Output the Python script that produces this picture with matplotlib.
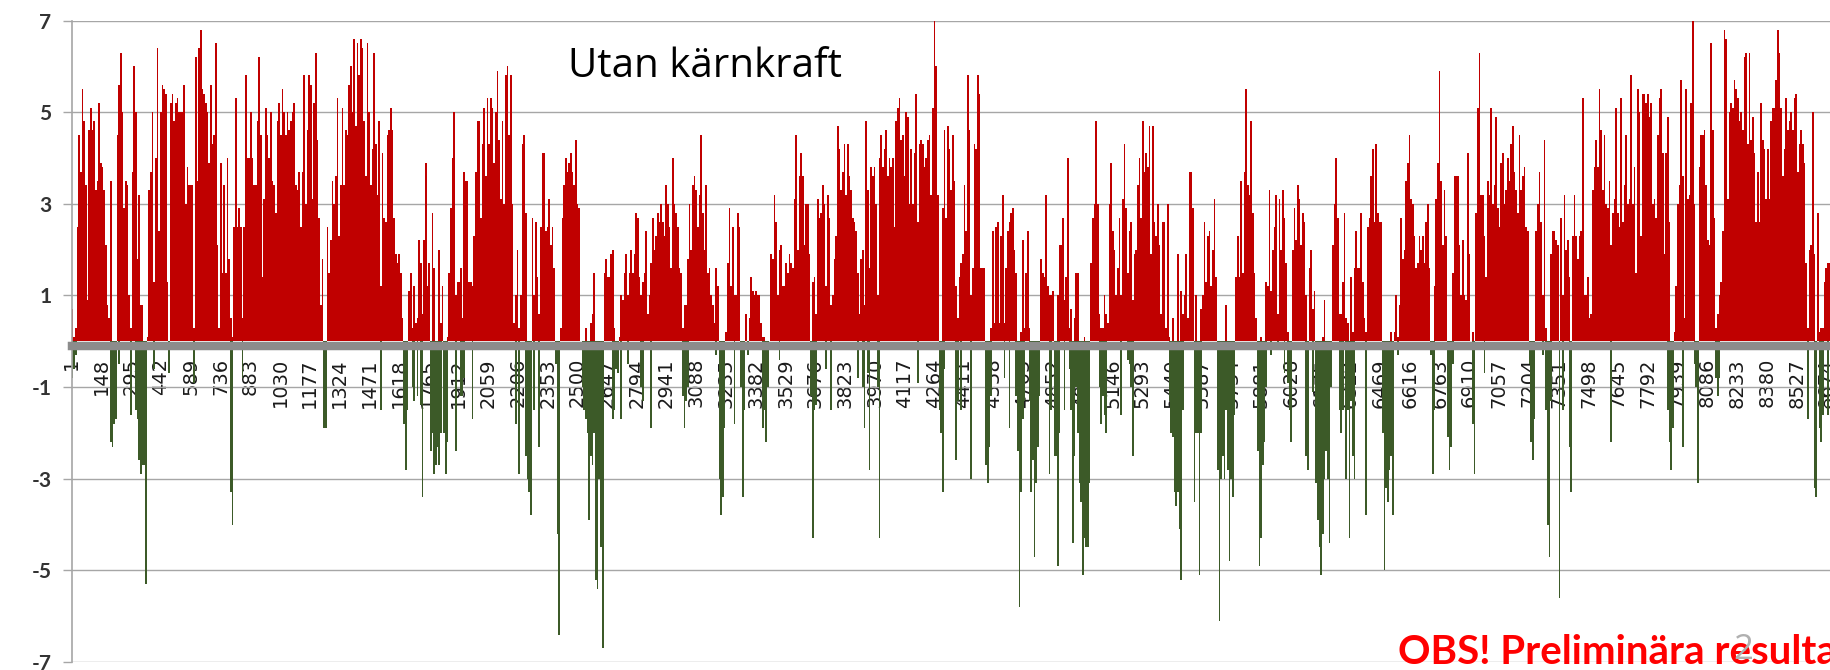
import numpy as np
import matplotlib.pyplot as plt

# timmar per avläst stapel (ungefär en tredjedels dygn)
BIN_H = 8.24

# överskott (röda staplar), ett värde per BIN_H timmar
overskott = [
    # 0 - 436 h
    0.7, 0.1, 0.3, 2.5, 4.5, 3.7, 5.5, 4.8, 3.4, 0.9, 4.6, 5.1, 4.6, 4.8, 3.3, 3.5, 5.2, 3.9, 3.8, 3.3,
    2.1, 0.8, 0.5, 3.5, 0, 0, 0, 4.5, 5.6, 6.3, 5.0, 2.9, 3.5, 3.4, 1.0, 0.3, 3.7, 6.0, 5.0, 1.8,
    3.2, 0.8, 0.8, 0, 0, 0.1, 3.3, 3.7, 5.0, 1.3, 4.0, 6.4, 2.4,
    # 436 - 1178 h
    5.0, 5.6, 5.5, 5.4, 1.3, 0.0, 5.2, 5.4, 4.8, 5.2, 5.3, 5.0, 5.0, 5.0, 5.6, 3.0, 3.8, 3.4, 3.4, 3.4,
    0.3, 6.2, 3.5, 6.4, 6.8, 5.5, 5.4, 5.2, 5.0, 3.9, 5.6, 4.3, 4.5, 6.5, 2.1, 0.3, 3.9, 1.5, 3.4, 1.5,
    4.0, 1.8, 0.5, 0.1, 2.5, 5.3, 2.5, 2.9, 2.5, 0.5, 2.5, 5.8, 4.0, 4.0, 5.0, 4.0, 3.4, 3.4, 4.8, 6.2,
    4.5, 1.4, 3.1, 5.1, 4.5, 4.0, 5.0, 3.5, 3.4, 2.8, 4.8, 5.2, 4.5, 5.5, 5.0, 4.5, 5.0, 4.6, 4.8, 5.0,
    5.2, 3.4, 3.3, 3.7, 2.5, 3.7, 5.8, 3.0, 4.6, 5.8,
    # 1178 - 1919 h
    5.6, 3.1, 5.2, 6.3, 4.4, 2.7, 0.8, 1.8, 0, 0, 2.5, 1.5, 2.2, 3.5, 3.0, 3.6, 5.3, 2.3, 3.4, 5.1,
    3.4, 4.6, 4.5, 5.6, 6.0, 5.0, 6.6, 4.7, 6.5, 5.8, 6.6, 6.4, 4.8, 3.6, 6.5, 5.0, 3.4, 4.2, 6.3, 4.3,
    3.2, 4.8, 1.2, 4.1, 2.7, 2.6, 4.5, 4.6, 5.1, 4.6, 2.7, 1.9, 1.7, 1.9, 1.5, 0.5, 0, 0, 0, 1.1,
    1.5, 0.3, 1.2, 0.4, 0.5, 2.2, 1.7, 0.6, 2.2, 3.9, 1.2, 1.7, 0, 2.8, 1.6, 0, 0, 2.0, 0.4, 1.2,
    0, 0, 0.1, 1.5, 2.9, 4.0, 5.0, 1.0, 1.3, 1.3,
    # 1919 - 2661 h
    1.6, 0.5, 3.7, 3.5, 3.5, 1.3, 1.3, 1.2, 2.3, 3.7, 4.8, 4.8, 2.7, 4.3, 5.1, 3.6, 5.3, 4.3, 5.3, 5.1,
    3.9, 5.0, 5.9, 4.4, 3.1, 4.8, 3.0, 5.8, 6.0, 4.5, 5.8, 3.0, 0.4, 1.0, 2.0, 0.3, 1.0, 4.3, 4.5, 2.8,
    0, 0, 0, 2.7, 1.0, 2.6, 1.4, 0.6, 2.5, 4.1, 4.1, 2.4, 2.5, 3.1, 2.1, 2.5, 1.6, 0, 0, 0,
    0.3, 2.7, 3.4, 4.0, 3.7, 3.9, 4.1, 3.7, 3.4, 4.4, 3.0, 2.9, 0, 0, 0, 0.3, 0, 0, 0.4, 0.6,
    1.5, 0, 0, 0, 0, 0, 1.5, 1.8, 1.4, 1.4,
    # 2661 - 3402 h
    1.9, 2.0, 0.3, 0, 0, 0.1, 1.0, 0.9, 1.5, 1.9, 1.0, 1.5, 2.0, 1.5, 1.9, 2.8, 2.7, 1.4, 1.0, 1.3,
    1.5, 2.4, 0.6, 1.0, 1.7, 2.7, 2.0, 2.3, 2.8, 2.6, 3.0, 2.6, 2.3, 3.4, 3.0, 2.5, 1.6, 4.0, 3.0, 2.8,
    2.5, 1.6, 1.5, 0.3, 0.8, 0.8, 1.8, 3.0, 2.0, 3.4, 3.6, 3.3, 2.5, 3.2, 4.5, 2.8, 2.0, 3.4, 1.5, 1.6,
    1.0, 0.8, 0.4, 1.6, 1.2, 0, 0, 0, 0, 0.2, 1.7, 2.9, 1.2, 2.5, 1.0, 1.0, 2.8, 2.5, 0, 0,
    0, 0.6, 0, 0.5, 1.4, 1.1, 1.0, 1.1, 1.0, 1.0,
    # 3402 - 4144 h
    0.4, 0.1, 0.1, 0, 0, 0, 1.9, 1.8, 3.2, 2.6, 1.0, 2.0, 2.1, 1.2, 1.2, 1.7, 1.5, 1.9, 1.7, 1.6,
    3.1, 4.5, 2.0, 3.6, 4.1, 3.6, 2.1, 3.0, 3.0, 1.9, 0, 1.3, 1.4, 0.6, 3.1, 2.7, 2.8, 3.4, 3.0, 1.2,
    3.2, 2.7, 0.8, 1.0, 1.8, 2.3, 4.7, 4.2, 3.3, 3.7, 4.3, 3.2, 4.3, 3.6, 3.3, 2.7, 2.6, 2.4, 1.5, 0.6,
    1.8, 2.0, 0.8, 4.8, 3.3, 1.6, 3.8, 3.6, 3.8, 3.0, 1.0, 4.0, 4.5, 3.8, 4.2, 4.6, 3.6, 4.0, 3.8, 4.0,
    2.5, 4.8, 5.1, 5.3, 4.4, 4.5, 3.6, 5.0, 4.9, 3.0,
    # 4144 - 4885 h
    4.2, 3.0, 4.1, 5.4, 2.6, 4.3, 4.4, 4.3, 3.8, 4.0, 4.4, 4.5, 3.2, 5.1, 7.0, 6.0, 3.2, 0, 0, 2.9,
    4.6, 2.7, 4.7, 4.2, 3.3, 4.5, 3.5, 1.2, 0.5, 1.4, 1.7, 1.9, 3.4, 2.4, 5.8, 4.6, 1.0, 1.6, 4.3, 4.2,
    5.8, 5.4, 1.6, 1.6, 1.6, 0, 0, 0, 0.3, 2.4, 0.4, 2.5, 2.6, 0.4, 2.3, 3.2, 0.4, 1.6, 2.4, 2.6,
    2.8, 2.9, 2.0, 1.5, 0, 0, 0.2, 2.2, 0.3, 1.5, 2.4, 0.3, 0, 0, 0, 0, 0, 0, 1.8, 1.5,
    1.4, 3.2, 1.2, 1.0, 1.0, 1.1, 0, 0, 1.0, 2.1,
    # 4885 - 5627 h
    2.1, 2.7, 0.9, 1.4, 4.0, 0.3, 0.7, 0, 0.5, 1.5, 1.5, 0, 0, 0, 0.1, 0, 0, 0, 1.7, 2.7,
    3.0, 4.8, 3.0, 0.6, 0.3, 0.3, 1.0, 0.6, 0.4, 3.0, 3.9, 2.4, 2.0, 1.0, 1.6, 2.7, 1.0, 3.1, 4.3, 2.9,
    1.5, 2.4, 2.6, 0.9, 1.9, 2.0, 3.4, 4.0, 2.7, 4.8, 3.7, 4.1, 3.8, 4.7, 1.9, 4.7, 2.6, 2.3, 3.0, 2.1,
    0.6, 2.6, 2.6, 0.3, 3.0, 0.1, 0, 0.5, 0, 0, 1.9, 0, 1.1, 0.6, 1.0, 1.9, 0.5, 3.7, 3.7, 2.9,
    0, 1.0, 0, 0, 0.7, 1.0, 2.6, 1.3, 2.3, 2.4,
    # 5627 - 6368 h
    1.2, 2.0, 3.1, 1.4, 0, 0, 0, 0, 0, 0.8, 0, 0, 0, 0, 0, 1.4, 2.3, 1.4, 3.5, 1.5,
    3.7, 5.5, 3.4, 3.2, 4.8, 2.8, 1.5, 0.5, 0, 0, 0.1, 0, 0, 1.3, 1.2, 3.3, 1.1, 2.0, 2.5, 3.2,
    0.6, 3.1, 2.0, 3.3, 2.7, 1.7, 0.2, 0, 0, 2.0, 2.9, 2.2, 3.4, 3.1, 2.1, 2.8, 2.6, 1.0, 0, 1.6,
    2.0, 0.7, 1.1, 0, 0, 0, 0, 0.1, 0.9, 0, 0, 0, 0, 2.1, 3.0, 4.0, 2.7, 0.6, 0.6, 1.3,
    2.8, 0.5, 0.4, 0, 1.4, 0.2, 1.6, 2.4, 1.6, 1.6,
    # 6368 - 7110 h
    2.8, 1.3, 0.5, 0.2, 2.5, 2.7, 3.6, 4.2, 2.6, 4.3, 2.8, 2.6, 2.6, 0, 0, 0, 0, 0, 0.2, 0,
    0.2, 1.0, 0.1, 0.8, 2.7, 1.8, 2.0, 3.5, 3.9, 4.5, 3.1, 3.0, 2.3, 1.6, 1.7, 2.3, 2.0, 2.3, 1.7, 2.6,
    3.0, 1.6, 0, 0, 1.2, 3.1, 3.9, 5.9, 3.5, 2.1, 3.3, 2.3, 0, 0, 0, 1.5, 3.6, 3.6, 3.6, 2.1,
    1.0, 2.2, 1.0, 0.9, 4.1, 1.9, 0, 0.2, 0, 2.8, 5.1, 6.3, 3.2, 3.2, 2.3, 1.4, 3.5, 3.2, 5.1, 3.0,
    3.4, 4.9, 2.9, 2.5, 3.9, 4.1, 3.0, 3.3, 4.0, 3.5,
    # 7110 - 7851 h
    4.3, 4.7, 3.7, 3.3, 2.8, 4.5, 3.3, 3.6, 3.8, 2.5, 2.4, 0, 0, 0, 0, 2.4, 3.0, 3.7, 2.6, 1.0,
    4.4, 0.3, 0, 0, 1.9, 2.4, 2.4, 2.2, 2.1, 0, 2.7, 1.0, 3.2, 2.0, 2.2, 1.4, 0, 2.3, 3.2, 2.3,
    1.8, 2.3, 2.4, 5.3, 1.0, 1.0, 1.4, 0.5, 0.6, 3.3, 3.8, 4.4, 3.8, 5.5, 4.6, 3.3, 4.5, 3.0, 2.9, 3.5,
    2.1, 2.8, 3.1, 5.1, 2.8, 2.5, 5.3, 2.6, 3.4, 4.5, 3.0, 3.1, 5.8, 3.0, 3.8, 1.5, 5.5, 5.0, 2.3, 5.4,
    5.4, 5.2, 5.4, 4.9, 5.2, 3.0, 3.1, 2.7, 4.5, 5.3,
    # 7851 - 8760 h
    5.5, 4.1, 1.9, 4.1, 4.9, 2.6, 0, 0, 0.2, 1.2, 3.0, 3.4, 5.7, 3.6, 0.5, 5.5, 3.1, 3.2, 5.2, 7.0,
    3.0, 0, 0, 3.8, 4.5, 4.5, 4.6, 3.4, 2.2, 2.1, 6.5, 4.6, 2.7, 0.3, 0.6, 1.0, 1.3, 2.4, 6.8, 6.6,
    3.1, 5.0, 5.2, 5.1, 5.7, 5.5, 5.3, 4.8, 5.0, 4.6, 6.2, 6.3, 4.3, 6.3, 4.4, 4.9, 4.1, 2.6, 3.7, 2.6,
    5.2, 4.4, 4.2, 3.1, 4.2, 3.1, 4.8, 5.1, 5.1, 5.7, 6.8, 6.3, 5.1, 3.6, 4.2, 5.3, 4.6, 4.8, 5.0, 4.6,
    5.3, 5.4, 3.7, 4.3, 4.6, 4.3, 3.9, 1.7, 0.3, 2.0, 2.1, 5.0, 1.9, 0, 2.8, 0.2, 0.3, 0.3, 1.3, 1.6,
    1.7, 1.7, 1.5, 1.2, 2.0, 0.8, 1.0, 1.4, 0.6, 1.1,
]

# underskott (gröna staplar)
underskott = [
    # 0 - 436 h
    -0.8, -0.6, -0.3, 0, 0, 0, 0, 0, 0, 0, 0, 0, 0, 0, 0, 0, 0, 0, 0, 0,
    0, 0, 0, -2.2, -2.3, -1.8, -1.7, 0, -0.5, 0, 0, 0, 0, 0, 0, -1.6, 0, 0, -1.5, -1.7,
    -2.6, -2.9, -2.7, -2.7, -5.3, 0, 0, 0, 0, -0.6, 0, 0, 0,
    # 436 - 1178 h
    0, 0, 0, 0, 0, -0.7, 0, 0, 0, 0, 0, 0, 0, 0, 0, 0, 0, 0, 0, 0,
    -0.9, 0, 0, 0, 0, 0, 0, 0, 0, 0, 0, 0, 0, 0, 0, 0, 0, 0, 0, 0,
    0, 0, -3.3, -4.0, 0, 0, 0, 0, 0, -0.8, 0, 0, 0, 0, 0, 0, 0, 0, 0, 0,
    0, 0, 0, 0, 0, 0, 0, 0, 0, 0, 0, 0, 0, 0, 0, 0, 0, 0, 0, 0,
    0, 0, 0, 0, 0, 0, 0, 0, 0, 0,
    # 1178 - 1919 h
    0, 0, 0, 0, 0, 0, 0, 0, -1.9, -1.9, 0, 0, 0, 0, 0, 0, 0, 0, 0, 0,
    0, 0, 0, 0, 0, 0, 0, 0, 0, 0, 0, 0, 0, 0, 0, 0, 0, 0, 0, 0,
    0, 0, -1.5, 0, 0, 0, 0, 0, 0, 0, 0, 0, 0, 0, 0, 0, -1.8, -2.8, -1.5, 0,
    0, -1.0, -1.3, 0, -1.2, 0, -1.4, -3.4, 0, 0, 0, 0, -2.4, -2.0, -2.9, -2.7, -2.3, -2.7, -2.0, 0,
    -2.0, -2.9, -2.2, 0, 0, 0, 0, -2.4, 0, 0,
    # 1919 - 2661 h
    -1.2, -1.2, -0.8, 0, 0, 0, 0, -1.7, 0, 0, 0, 0, 0, 0, 0, 0, 0, 0, 0, 0,
    0, 0, 0, 0, 0, 0, 0, 0, 0, 0, 0, 0, 0, -1.8, 0, -2.9, 0, 0, 0, -2.5,
    -3.0, -3.3, -3.8, 0, -1.5, 0, 0, -2.3, 0, 0, 0, 0, 0, 0, 0, 0, 0, -0.5, -4.2, -6.4,
    0, 0, 0, 0, 0, 0, 0, 0, 0, 0, 0, 0, 0, -1.0, -1.5, -1.7, -2.0, -3.9, -2.5, -2.7,
    -2.0, -5.2, -5.4, -3.0, -4.5, -6.7, 0, 0, 0, 0,
    # 2661 - 3402 h
    0, -1.7, -1.5, -0.6, -0.7, 0, -1.7, 0, 0, 0, -0.5, 0, 0, 0, 0, 0, 0, 0, -1.0, -1.3,
    0, 0, 0, 0, -1.9, 0, 0, 0, 0, 0, 0, 0, 0, 0, 0, 0, 0, 0, 0, 0,
    0, 0, 0, -1.2, -1.9, -1.3, -1.0, 0, 0, 0, 0, 0, 0, 0, 0, 0, 0, 0, 0, 0,
    0, 0, 0, -0.3, 0, -3.0, -3.8, -3.4, -1.9, 0, 0, 0, 0, 0, -1.8, 0, 0, 0, -1.0, -3.4,
    -1.5, 0, -0.3, 0, 0, 0, 0, 0, 0, 0,
    # 3402 - 4144 h
    0, -1.9, -1.5, -2.2, -1.0, 0, 0, 0, 0, 0, 0, -0.4, 0, 0, 0, 0, 0, 0, 0, 0,
    0, 0, 0, 0, 0, 0, 0, 0, 0, 0, -1.2, -4.3, -1.5, -1.4, 0, 0, 0, 0, 0, -0.6,
    0, 0, -1.5, 0, 0, 0, 0, 0, 0, 0, 0, 0, 0, 0, 0, 0, 0, 0, -0.8, 0,
    0, -1.0, -1.9, 0, -0.7, -2.8, 0, 0, 0, 0, -1.0, -4.3, 0, 0, 0, 0, 0, 0, 0, 0,
    0, 0, 0, 0, 0, 0, 0, 0, 0, 0,
    # 4144 - 4885 h
    0, 0, 0, 0, -0.9, 0, 0, 0, 0, 0, 0, 0, 0, 0, 0, 0, 0, -1.5, -2.0, -3.3,
    -0.6, 0, 0, 0, 0, 0, 0, -2.6, -1.3, 0, -1.5, 0, 0, 0, 0, 0, -3.0, 0, 0, 0,
    0, 0, 0, 0, 0, -2.7, -3.1, -2.3, -1.2, 0, 0, 0, 0, 0, 0, 0, -0.8, 0, 0, -1.9,
    0, 0, 0, -1.2, -2.4, -5.8, -3.3, -1.7, -1.3, 0, 0, -1.3, -3.3, -2.6, -4.7, -3.1, -2.3, -1.2, 0, 0,
    0, 0, 0, -2.9, -1.5, 0, -2.5, -2.5, -4.9, -2.0,
    # 4885 - 5627 h
    0, 0, -1.5, 0, 0, -0.6, -1.5, -4.4, -2.5, -1.0, -2.0, -3.1, -3.5, -5.1, -4.3, -4.5, -4.5, -3.1, 0, 0,
    0, 0, 0, -1.0, -1.8, -1.2, -1.6, -2.0, 0, 0, 0, 0, 0, 0, 0, 0, -1.6, 0, 0, 0,
    -0.4, -0.5, -1.0, -2.5, 0, 0, 0, 0, 0, 0, 0, 0, 0, 0, 0, 0, 0, 0, 0, 0,
    0, 0, 0, 0, 0, -1.3, -2.0, -2.1, -3.3, -3.6, -3.3, -4.1, -5.2, -1.5, 0, 0, 0, 0, 0, 0,
    -3.5, -2.0, -2.0, -5.1, -2.0, 0, 0, 0, 0, 0,
    # 5627 - 6368 h
    0, 0, 0, 0, -2.8, -6.1, -3.0, -2.5, -3.0, -1.5, -2.8, -4.8, -3.0, -3.4, -1.6, 0, 0, 0, 0, 0,
    0, 0, 0, 0, 0, 0, 0, 0, -2.4, -4.9, -4.3, -2.7, -2.2, -1.0, 0, 0, -0.3, 0, 0, 0,
    -0.2, 0, 0, 0, -0.7, 0, -0.9, -1.5, -2.2, 0, 0, 0, 0, 0, 0, 0, 0, -2.5, -2.8, 0,
    0, -1.1, 0, -3.1, -3.9, -4.5, -5.1, -4.2, -3.0, -2.4, -3.0, -4.4, -1.0, 0, 0, 0, 0, -1.5, -2.0, -1.5,
    0, -3.0, -1.5, -4.3, -1.3, -2.5, -3.0, 0, 0, 0,
    # 6368 - 7110 h
    0, 0, 0, -3.8, 0, 0, 0, 0, 0, 0, 0, 0, 0, -2.0, -5.0, -3.2, -3.5, -2.8, -2.5, -3.8,
    0, 0, -0.3, 0, 0, 0, 0, 0, 0, 0, 0, 0, 0, 0, 0, 0, 0, 0, 0, 0,
    0, 0, -0.3, -2.9, -1.5, 0, 0, 0, 0, 0, 0, 0, -2.1, -2.8, -2.3, -0.5, 0, 0, 0, 0,
    0, 0, 0, 0, 0, 0, 0, -1.8, -2.9, 0, 0, 0, 0, 0, -0.7, 0, 0, 0, 0, 0,
    0, 0, 0, 0, 0, 0, 0, 0, 0, 0,
    # 7110 - 7851 h
    0, 0, 0, 0, 0, 0, 0, 0, 0, 0, 0, -0.5, -2.2, -2.6, -1.7, 0, 0, 0, 0, -0.3,
    0, -1.5, -4.0, -4.7, -1.3, 0, 0, 0, 0, -5.6, 0, -1.5, 0, 0, 0, -2.3, -3.3, 0, 0, 0,
    0, 0, 0, 0, 0, 0, 0, 0, 0, 0, 0, 0, 0, 0, 0, 0, 0, 0, 0, 0,
    -2.2, 0, 0, 0, 0, 0, 0, 0, 0, 0, 0, 0, 0, 0, 0, 0, 0, 0, 0, 0,
    0, 0, 0, 0, 0, 0, 0, 0, 0, 0,
    # 7851 - 8760 h
    0, 0, 0, 0, -1.5, -2.2, -2.8, -1.9, 0, 0, 0, 0, 0, -2.3, 0, 0, 0, 0, 0, 0,
    -0.5, -1.0, -3.1, 0, 0, 0, 0, 0, 0, 0, 0, 0, 0, -0.8, -1.2, -0.8, 0, 0, 0, 0,
    0, 0, 0, 0, 0, 0, 0, 0, 0, 0, 0, 0, 0, 0, 0, 0, 0, 0, 0, 0,
    0, 0, 0, 0, 0, 0, 0, 0, 0, 0, 0, 0, 0, 0, 0, 0, 0, 0, 0, 0,
    0, 0, 0, 0, 0, 0, 0, 0, -1.7, 0, 0, 0, -3.2, -3.4, 0, -1.9, -2.2, -1.6, 0, 0,
    -1.6, 0, 0, 0, 0, 0, 0, 0, 0, 0,
]

# kategorietiketter på x-axeln (timme på året)
timmar_etiketter = list(range(1, 8761, 147))
y_ticks = [-7, -5, -3, -1, 1, 3, 5, 7]

ROD = '#c00000'
GRON = '#3c5a28'
GRA = '#8c8c8c'

fig = plt.figure(figsize=(18.3, 6.7), dpi=100)
# axeln fortsätter lite utanför bildens högra kant, som i originalet
ax = fig.add_axes([0.0392, 0.0119, 0.9684, 0.9575])

x = np.arange(len(overskott)) * BIN_H
ax.bar(x, overskott, width=BIN_H, align='edge', color=ROD, linewidth=0)
ax.bar(x, underskott, width=BIN_H, align='edge', color=GRON, linewidth=0)

ax.set_xlim(0, 8760)
ax.set_ylim(-7, 7)
ax.set_yticks(y_ticks)
ax.set_yticklabels([str(v) for v in y_ticks], fontsize=15, fontweight='bold',
                   family='Lato', color='#333333')
ax.yaxis.grid(True, color='#a6a6a6', linewidth=1.0)
ax.set_axisbelow(True)
ax.tick_params(axis='y', length=6.5, width=1.0, color='#a6a6a6', pad=8)

# tjock grå nollaxel med etiketter under
ax.spines['bottom'].set_position(('data', -0.095))
ax.spines['bottom'].set_color(GRA)
ax.spines['bottom'].set_linewidth(6.1)
ax.set_xticks([h - 0.5 for h in timmar_etiketter])
ax.set_xticklabels([str(h) for h in timmar_etiketter], rotation=90, fontsize=14,
                   color='#1a1a1a')
ax.tick_params(axis='x', length=0, pad=9)

ax.spines['left'].set_color('#a6a6a6')
ax.spines['left'].set_linewidth(1.2)
ax.spines['top'].set_visible(False)
ax.spines['right'].set_visible(False)

fig.text(568 / 1830, 1 - 77 / 670, 'Utan kärnkraft', fontsize=29, family='Open Sans',
         color='black', ha='left', va='baseline')
fig.text(1398 / 1830, 1 - 664 / 670, 'OBS! Preliminära resultat', fontsize=29,
         family='Lato', fontweight='bold', color='#ff0000', ha='left', va='baseline')
fig.text(1733 / 1830, 1 - 659 / 670, '2', fontsize=25, family='Open Sans',
         color='#b0b0b0', ha='left', va='baseline')

fig.savefig('out.png', dpi=100)
